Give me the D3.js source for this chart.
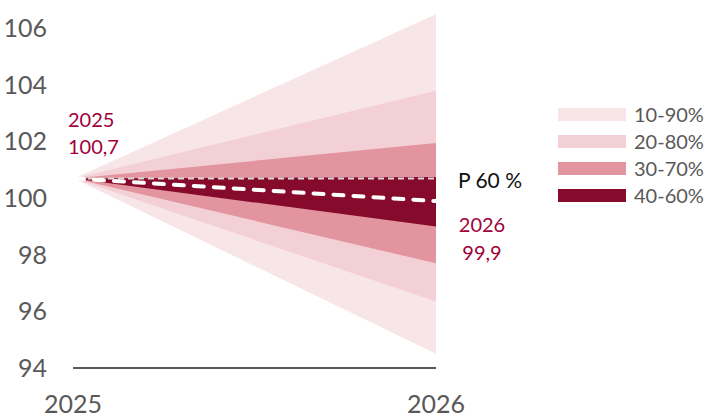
<!DOCTYPE html>
<html>
<head>
<meta charset="utf-8">
<script src="https://cdn.jsdelivr.net/npm/d3@7"></script>
<style>
  html, body { margin: 0; padding: 0; background: #fff; }
  svg { display: block; font-family: Lato, "Open Sans", sans-serif; }
</style>
</head>
<body>
<svg id="chart" width="707" height="415"></svg>
<script>
// Forecast fan: start value in 2025, quantiles of the 2026 outcome
const years = [2025, 2026];
const startValue = 100.7;
const quantiles = [10, 20, 30, 40, 50, 60, 70, 80, 90];
const endValues = [94.5, 96.35, 97.7, 99.0, 99.9, 100.75, 101.95, 103.8, 106.5];

const bandNames = ["10-90%", "20-80%", "30-70%", "40-60%"];
const bandLow = [10, 20, 30, 40];
const bandHigh = [90, 80, 70, 60];
const bandColors = ["#f8e5e8", "#f3d0d6", "#e3959f", "#850a2b"];

const yTicks = [94, 96, 98, 100, 102, 104, 106];
const xTicks = ["2025", "2026"];
const probLabel = "P 60 %";
const startLabel = ["2025", "100,7"];
const endLabel = ["2026", "99,9"];

const svg = d3.select("#chart");
const x = d3.scaleLinear().domain([2025, 2026]).range([74, 436]);
const y = d3.scaleLinear().domain([94, 106]).range([368, 28.5]);

const q = p => endValues[quantiles.indexOf(p)];

// Fan bands, widest first
const area = d3.area().x(d => x(d.t)).y0(d => y(d.lo)).y1(d => y(d.hi));
bandNames.forEach((name, i) => {
  const pts = [
    { t: years[0], lo: startValue, hi: startValue },
    { t: years[1], lo: q(bandLow[i]), hi: q(bandHigh[i]) }
  ];
  svg.append("path").attr("d", area(pts)).attr("fill", bandColors[i]);
});

// Reference line at the starting level
svg.append("line")
  .attr("x1", x(2025) + 4).attr("x2", x(2026))
  .attr("y1", y(startValue)).attr("y2", y(startValue))
  .attr("stroke", "#d9d9d9").attr("stroke-width", 2)
  .attr("stroke-dasharray", "6 4");

// Median path
const line = d3.line().x(d => x(d.t)).y(d => y(d.v));
svg.append("path")
  .attr("d", line([{ t: years[0], v: startValue }, { t: years[1], v: q(50) }]))
  .attr("fill", "none").attr("stroke", "#fff").attr("stroke-width", 4)
  .attr("stroke-linecap", "round").attr("stroke-dasharray", "10 10")
  .attr("transform", "translate(0,0)");

// Axes
svg.append("line")
  .attr("x1", x(2025) - 1).attr("x2", x(2026))
  .attr("y1", y(94)).attr("y2", y(94))
  .attr("stroke", "#595959").attr("stroke-width", 2);

svg.selectAll(".ytick").data(yTicks).join("text")
  .attr("x", 47).attr("y", d => y(d))
  .attr("dy", "0.35em").attr("text-anchor", "end")
  .attr("font-size", 25).attr("fill", "#595959")
  .text(d => d);

svg.selectAll(".xtick").data(xTicks).join("text")
  .attr("x", d => x(+d) - (d === "2025" ? 1 : 0)).attr("y", 413)
  .attr("text-anchor", "middle")
  .attr("font-size", 25).attr("fill", "#595959")
  .text(d => d);

// Value annotations
const red = "#a1003a";
svg.append("text").attr("x", 68).attr("y", 127)
  .attr("font-size", 20).attr("fill", red).text(startLabel[0]);
svg.append("text").attr("x", 68).attr("y", 154)
  .attr("font-size", 20).attr("fill", red).text(startLabel[1]);

svg.append("text").attr("x", 482).attr("y", 232).attr("text-anchor", "middle")
  .attr("font-size", 20).attr("fill", red).text(endLabel[0]);
svg.append("text").attr("x", 482).attr("y", 260).attr("text-anchor", "middle")
  .attr("font-size", 20).attr("fill", red).text(endLabel[1]);

svg.append("text").attr("x", 458).attr("y", 188)
  .attr("font-size", 21).attr("fill", "#111").text(probLabel);

// Legend
const legend = svg.append("g").attr("transform", "translate(558,108)");
bandNames.forEach((name, i) => {
  const g = legend.append("g").attr("transform", `translate(0,${i * 27})`);
  g.append("rect").attr("width", 68).attr("height", 13).attr("fill", bandColors[i]);
  g.append("text").attr("x", 76).attr("y", 6.5).attr("dy", "0.36em")
    .attr("font-size", 20).attr("fill", "#595959").text(name);
});
</script>
</body>
</html>
